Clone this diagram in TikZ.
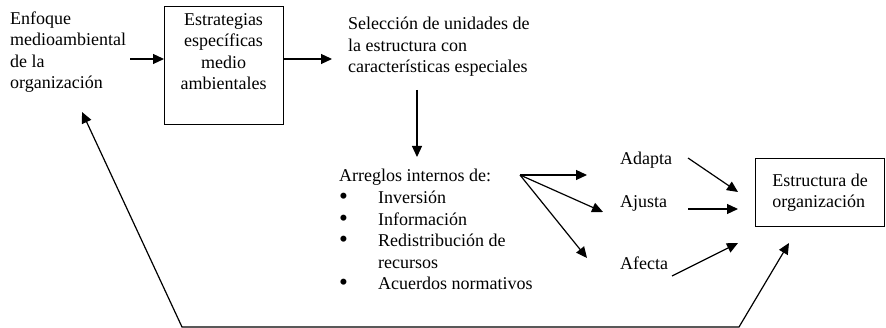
\documentclass[tikz,border=0pt]{standalone}
\usepackage{fontspec}
\setmainfont{Liberation Serif}
\usetikzlibrary{arrows.meta}
\tikzset{
  texto/.style={font=\fontsize{18}{21.5}\selectfont, inner sep=0pt, align=left, anchor=base west},
  caja/.style={draw, line width=1.2pt, font=\fontsize{18}{21.5}\selectfont},
  flecha/.style={line width=1.2pt, -{Triangle[length=11pt,width=10pt]}},
  retorno/.style={line width=1.2pt, {Triangle[length=11pt,width=10pt]}-{Triangle[length=11pt,width=10pt]}},
}
\newcommand{\punto}{\makebox[39pt][l]{\smash{\raisebox{-1pt}{\scalebox{1.4}{\textbullet}}}}}

\begin{document}
\begin{tikzpicture}[x=1pt,y=-1pt]
    \useasboundingbox (0,0) rectangle (886,328);
    %% Texts and boxes (base = last line)
    \node[texto] (enfoque) at (10,89) {Enfoque\\medioambiental\\de la\\organización};
    \node[caja, minimum width=119pt, minimum height=118pt, anchor=north west] (estrategias) at (164,6) {};
    \node[texto, align=center, anchor=base] (estrategiastxt) at (223.5,90) {Estrategias\\específicas\\medio\\ambientales};
    \node[texto] (seleccion) at (348,73) {Selección de unidades de\\la estructura con\\características especiales};
    \node[texto] (arreglos) at (339,182) {Arreglos internos de:};
    \node[texto] (lista) at (339,290) {\punto Inversión\\\punto Información\\\punto Redistribución de\\\hspace*{39pt}recursos\\\punto Acuerdos normativos};
    \node[texto] (adapta) at (620,165) {Adapta};
    \node[texto] (ajusta) at (620,208) {Ajusta};
    \node[texto] (afecta) at (620,270) {Afecta};
    \node[caja, minimum width=129pt, minimum height=68pt, anchor=north west, align=left, inner sep=0pt] (estructura) at (755,158) {Estructura de\\organización};
    %% Arrow ends
    \coordinate (e1) at (130,59);
    \coordinate (s1) at (332,59);
    \coordinate (b1) at (417,90);
    \coordinate (b2) at (417,157);
    \coordinate (split) at (520,175);
    \coordinate (t1) at (587,175);
    \coordinate (t2) at (603,212);
    \coordinate (t3) at (587,258);
    \coordinate (a1) at (688,158);
    \coordinate (a2) at (688,209);
    \coordinate (a3) at (672,276);
    \coordinate (r1) at (82,112);
    \coordinate (r2) at (182,327);
    \coordinate (r3) at (739,327);
    \coordinate (r4) at (789,243);
    %% Arrows
    \draw[flecha] (e1) -- (e1 -| estrategias.west);
    \draw[flecha] (estrategias.east |- e1) -- (s1);
    \draw[flecha] (b1) -- (b2);
    \draw[flecha] (split) -- (t1);
    \draw[flecha] (split) -- (t2);
    \draw[flecha] (split) -- (t3);
    \draw[flecha] (a1) -- ([xshift=-17pt]estructura.west |- 0,192);
    \draw[flecha] (a2) -- ([xshift=-17pt]estructura.west |- a2);
    \draw[flecha] (a3) -- ([xshift=-17pt]estructura.west |- 0,243);
    \draw[retorno] (r1) -- (r2) -- (r3) -- (r4);
\end{tikzpicture}
\end{document}
